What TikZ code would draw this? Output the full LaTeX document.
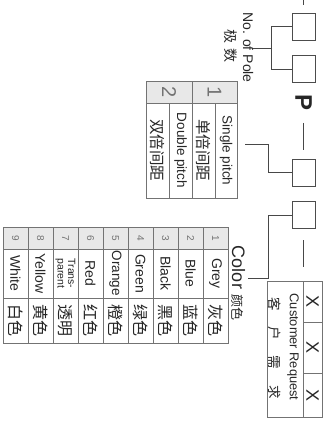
\documentclass[tikz,border=0pt]{standalone}
\usepackage{fontspec}
\setmainfont{Liberation Sans}
\newfontfamily\cjk{Noto Sans CJK SC}
\begin{document}
\begin{tikzpicture}[x=1pt,y=-1pt,
  ln/.style={draw=black!72,line width=0.9pt},
  bx/.style={rectangle,draw=black!70,line width=0.9pt,fill=white,minimum width=23pt,minimum height=27pt,inner sep=0pt},
  cell/.style={rectangle,draw=black!55,line width=0.7pt,rotate=-90,inner sep=0pt,align=center,text=black!85},
  hd/.style={cell,fill=black!9,text=black!55},
  rt/.style={rotate=-90,inner sep=0pt,text=black!85},
  ]
\useasboundingbox (0,0) rectangle (336,427);

% right column of code boxes
\node[bx] (b1) at (303.5,26.5) {};
\node[bx] (b2) at (303.5,69) {};
\node[bx] (b3) at (303.5,172.5) {};
\node[bx] (b4) at (303.5,215) {};
\node[rt,font=\bfseries\fontsize{24}{24}\selectfont] (P) at (303.5,102.5) {P};

\coordinate (d0a) at (303.5,0);   \coordinate (d0b) at (303.5,5);
\coordinate (d1a) at (303.5,123); \coordinate (d1b) at (303.5,150);
\coordinate (d2a) at (303.5,240); \coordinate (d2b) at (303.5,267);
\draw[ln] (d0a) -- (d0b);
\draw[ln] (d1a) -- (d1b);
\draw[ln] (d2a) -- (d2b);

% number of poles
\node[rt,font=\fontsize{14}{14}\selectfont] (pole) at (248,47.5) {No. of Pole};
\node[rt,font=\cjk\fontsize{14}{14}\selectfont] (polecn) at (231,46) {极\hspace{5pt}数};
\draw[ln] (b1.west) -- ++(-20,0) |- (b2.west);
\coordinate (pj) at (272,48); \coordinate (ps) at (253,48);
\draw[ln] (pj) -- (ps);

% pitch
\coordinate (pitchend) at (245,144);
\draw[ln] (b3.west) -- ++(-23.5,0) |- (pitchend);
\node[hd,minimum width=22pt,minimum height=46pt,font=\fontsize{20}{20}\selectfont] (ph2) at (169,92) {2};
\node[hd,minimum width=22pt,minimum height=45pt,font=\fontsize{20}{20}\selectfont] (ph1) at (214.5,92) {1};
\node[cell,minimum width=95pt,minimum height=23pt,font=\cjk\fontsize{15.5}{15.5}\selectfont] (p2cn) at (157.5,150.5) {双倍间距};
\node[cell,minimum width=95pt,minimum height=23pt,font=\fontsize{13.5}{13.5}\selectfont] (p2en) at (180.5,150.5) {Double pitch};
\node[cell,minimum width=95pt,minimum height=23pt,font=\cjk\fontsize{15.5}{15.5}\selectfont] (p1cn) at (203.5,150.5) {单倍间距};
\node[cell,minimum width=95pt,minimum height=22pt,font=\fontsize{13.5}{13.5}\selectfont] (p1en) at (226,150.5) {Single pitch};

% colour
\coordinate (colend) at (248,278);
\draw[ln] (b4.west) -- ++(-23.5,0) |- (colend);
\node[rt,font=\fontsize{18}{18}\selectfont] (col) at (238,283) {Color {\cjk\fontsize{13}{13}\selectfont 颜色}};
\foreach \i/\en/\cn/\fs in {1/Grey/灰色/14, 2/Blue/蓝色/14, 3/Black/黑色/14, 4/Green/绿色/14, 5/Orange/橙色/13.5, 6/Red/红色/14, 7/{Trans-\\parent}/透明/10.5, 8/Yellow/黄色/14, 9/White/白色/14}{
  \node[hd,minimum width=22pt,minimum height=25pt,font=\fontsize{10}{10}\selectfont] (h\i) at ({228-25*(\i-0.5)},238) {\i};
  \node[cell,minimum width=49pt,minimum height=25pt,font=\fontsize{\fs}{\fs}\selectfont] (e\i) at ({228-25*(\i-0.5)},273.5) {\en};
  \node[cell,minimum width=45pt,minimum height=25pt,font=\cjk\fontsize{16}{16}\selectfont] (c\i) at ({228-25*(\i-0.5)},320.5) {\cn};
}

% customer request
\node[cell,minimum width=136pt,minimum height=36pt] (cr) at (285,349) {};
\node[rt,font=\fontsize{12.8}{12.8}\selectfont] (cren) at (293,347) {Customer Request};
\node[rt,font=\cjk\fontsize{13.5}{13.5}\selectfont] (crcn) at (275,348) {客\hspace{16pt}户\hspace{16pt}需\hspace{16pt}求};
\node[cell,minimum width=41pt,minimum height=19pt,font=\fontsize{18}{18}\selectfont] (x1) at (312.5,301.5) {X};
\node[cell,minimum width=51pt,minimum height=19pt,font=\fontsize{18}{18}\selectfont] (x2) at (312.5,347.5) {X};
\node[cell,minimum width=44pt,minimum height=19pt,font=\fontsize{18}{18}\selectfont] (x3) at (312.5,395) {X};
\end{tikzpicture}
\end{document}
